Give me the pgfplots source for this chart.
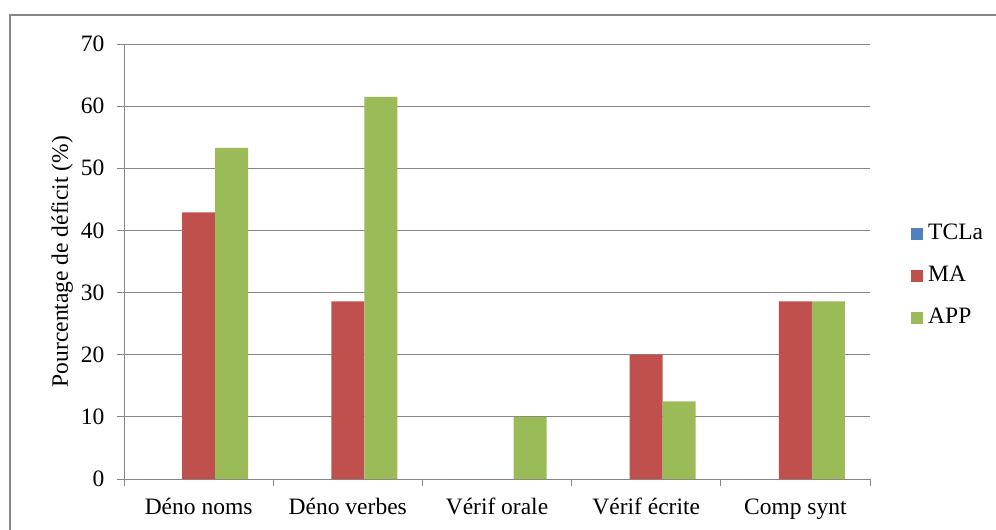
\documentclass[border=0pt]{standalone}
\usepackage{fontspec}
\setmainfont{Liberation Serif}
\usepackage{pgfplots}
\pgfplotsset{compat=1.18}
\definecolor{cTCLa}{HTML}{4F81BD}
\definecolor{cMA}{HTML}{C0504D}
\definecolor{cAPP}{HTML}{9BBB59}
\definecolor{gridc}{HTML}{868686}
\newcommand{\chartfont}{\fontsize{23.5}{28}\selectfont}
\begin{document}
\begin{tikzpicture}[x=1pt,y=1pt]
\path[use as bounding box] (0,0) rectangle (996,530);
\draw[gridc, line width=1.3pt] (10,0) -- (10,515) -- (996,515);
\begin{axis}[
  at={(124pt,51pt)}, anchor=south west,
  scale only axis, width=746pt, height=435pt,
  ybar=0pt, bar width=33pt,
  xmin=-0.5, xmax=4.5, ymin=0, ymax=70,
  ytick={0,10,...,70},
  xtick={-0.5,0.5,...,4.5}, xticklabels={},
  extra x ticks={0,1,2,3,4},
  extra x tick labels={Déno noms, Déno verbes, Vérif orale, Vérif écrite, Comp synt},
  extra x tick style={major tick length=0pt, grid=none},
  axis x line*=bottom, axis y line*=left,
  axis line style={gridc, line width=1pt, -},
  tick style={gridc, line width=1pt},
  tick align=outside, major tick length=7pt,
  ymajorgrids, grid style={gridc, line width=1pt},
  /pgf/number format/assume math mode=true,
  tick label style={font=\chartfont},
  xticklabel style={anchor=base, yshift=-35pt},
  yticklabel style={anchor=east, xshift=-9pt},
  ylabel={Pourcentage de déficit (\%)},
  every axis y label/.style={at={(rel axis cs:-0.0751,0.5)}, rotate=90, anchor=base, font=\chartfont},
  legend style={at={(1.055,0.467)}, anchor=west, draw=none, fill=none, inner sep=0pt,
    row sep=17pt, font=\chartfont,
    nodes={inner ysep=2pt, inner xsep=5pt, text height=16pt, text depth=5pt}},
  legend cell align=left,
  legend image code/.code={\fill[#1] (0pt,-6pt) rectangle (12pt,6pt);},
]
\addplot[fill=cTCLa, draw=none] coordinates {(0,0) (1,0) (2,0) (3,0) (4,0)};
\addplot[fill=cMA, draw=none] coordinates {(0,42.9) (1,28.6) (2,0) (3,20) (4,28.6)};
\addplot[fill=cAPP, draw=none] coordinates {(0,53.3) (1,61.5) (2,10) (3,12.5) (4,28.6)};
\legend{TCLa, MA, APP}
\end{axis}
\end{tikzpicture}
\end{document}
